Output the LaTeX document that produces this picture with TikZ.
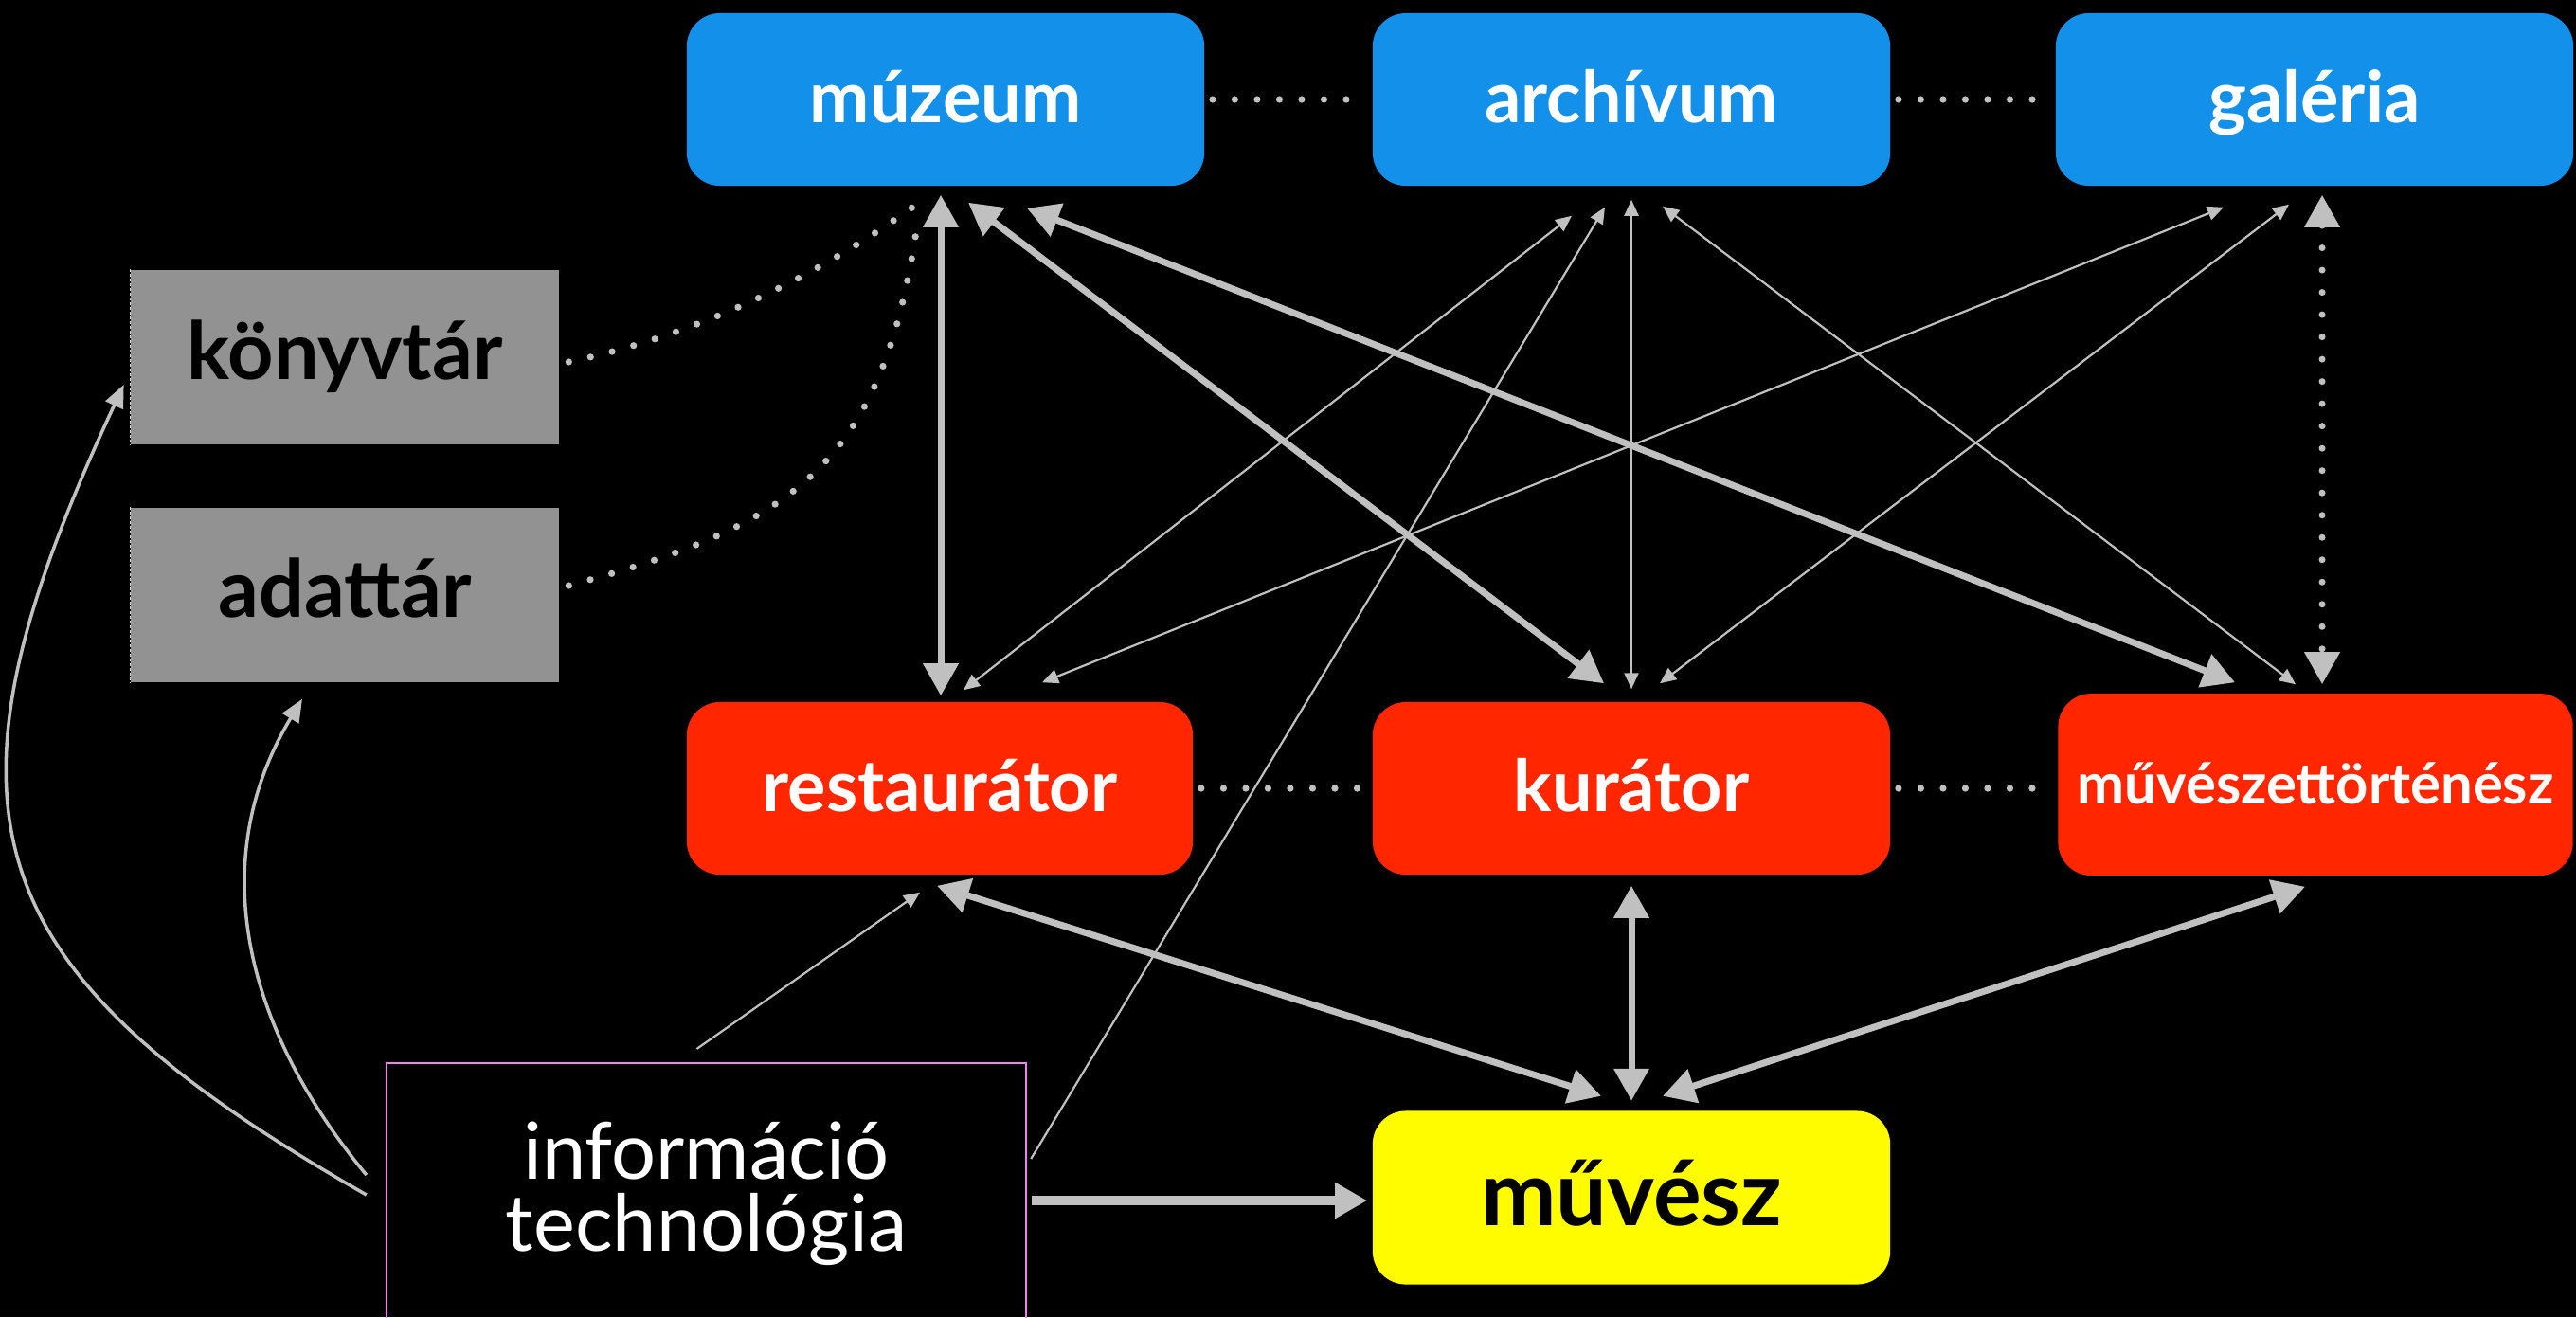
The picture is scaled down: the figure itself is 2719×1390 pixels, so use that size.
\documentclass[tikz,border=0pt]{standalone}
\usepackage{fontspec}
\setmainfont{Lato}
\usetikzlibrary{arrows.meta,calc}
\definecolor{kek}{RGB}{18,144,234}
\definecolor{piros}{RGB}{255,38,0}
\definecolor{sarga}{RGB}{255,252,0}
\definecolor{szurke}{RGB}{146,146,146}
\definecolor{vonal}{RGB}{192,192,192}
\definecolor{lila}{RGB}{238,130,238}
\definecolor{szaggat}{RGB}{215,215,215}
\begin{document}
\begin{tikzpicture}[x=0.01cm,y=-0.01cm,
	box/.style={rounded corners=.35cm,inner sep=0pt,minimum width=5.46cm,minimum height=1.82cm,text=white,text height=17pt,text depth=3pt,font=\bfseries\fontsize{21.5}{25}\selectfont},
	hely/.style={box,fill=kek},
	szerep/.style={box,fill=piros},
	tar/.style={fill=szurke,inner sep=0pt,minimum width=4.51cm,minimum height=1.84cm,text height=17pt,text depth=3.4pt,font=\bfseries\fontsize{24}{28}\selectfont},
	vastag/.style={draw=vonal,line width=.07cm,>={Triangle[length=.34cm,width=.36cm]}},
	vekony/.style={draw=vonal,line width=.022cm,>={Triangle[length=.17cm,width=.15cm]}},
	ives/.style={draw=vonal,line width=.035cm,->,>={Triangle[length=.24cm,width=.2cm]}},
	pont/.style={draw=vonal,line width=.072cm,line cap=round,dash pattern=on 0pt off .235cm}]
	\useasboundingbox (0,0) rectangle (2719,1390);
	\fill[black] (0,0) rectangle (2719,1390);
	% intezmenyek
	\node[hely] (muzeum) at (998,105) {múzeum};
	\node[hely] (archiv) at (1722,105) {archívum};
	\node[hely] (galeria) at (2443,105) {galéria};
	% szakemberek
	\node[szerep,minimum width=5.34cm] (restaurator) at (992,832) {restaurátor};
	\node[szerep] (kurator) at (1722,832) {kurátor};
	\node[szerep,minimum width=5.43cm,minimum height=1.92cm,text height=13.5pt,text depth=2.1pt,font=\bfseries\fontsize{17}{20}\selectfont] (muvtort) at (2444,828) {művészettörténész};
	\node[box,fill=sarga,text=black,minimum height=1.83cm,text height=20pt,text depth=3pt,font=\bfseries\fontsize{27}{32}\selectfont] (muvesz) at (1722,1264) {művész};
	\node[tar] (konyvtar) at (364,377) {könyvtár};
	\node[tar] (adattar) at (364,628) {adattár};
	\node[draw=lila,line width=.02cm,inner sep=0pt,minimum width=6.75cm,minimum height=2.76cm,text=white,align=center,font=\fontsize{23.6}{21.5}\selectfont] (infotech) at (745.5,1260) {információ\\technológia};
	\foreach \t in {konyvtar,adattar}
		\draw[szaggat,line width=.012cm,dash pattern=on .03cm off .02cm] (\t.north west)--(\t.south west);
	% pontozott kapcsolatok
	\draw[pont,shorten <=.08cm,shorten >=.06cm] (muzeum)--(archiv);
	\draw[pont,shorten <=.08cm,shorten >=.06cm] (archiv)--(galeria);
	\draw[pont,shorten <=.08cm,shorten >=.06cm] (restaurator)--(kurator);
	\draw[pont,shorten <=.08cm,shorten >=.06cm] (kurator.east)--(kurator.east-|muvtort.west);
	\draw[pont] ($(konyvtar.east)+(10,5)$) .. controls +(147,-31) and +(-97,71) .. ($(muzeum.south)+(-28,17)$);
	\draw[pont] ($(adattar.east)+(10,-10)$) .. controls +(243,-65) and +(-36,257) .. ($(muzeum.south)+(-29,34)$);
	\draw[pont,vastag,<->] ($(galeria.south)+(8,9)$)--($(muvtort.north)+(7,-9)$);
	% vastag nyilak
	\draw[vastag,<->] ($(muzeum.south)+(-5,9)$)--($(restaurator.north)+(1,-6)$);
	\draw[vastag,<->] ($(muzeum.south)+(24,17)$)--($(kurator.north)+(-29,-19)$);
	\draw[vastag,<->] ($(muzeum.south)+(86,23)$)--($(muvtort.north)+(-85,-11)$);
	\draw[vastag,<->] ($(restaurator.south)+(-3,11)$)--($(muvesz.north)+(-32,-15)$);
	\draw[vastag,<->] ($(kurator.south)+(0,11)$)--($(muvesz.north)+(0,-10)$);
	\draw[vastag,<->] ($(muvtort.south)+(-11,11)$)--($(muvesz.north)+(33,-15)$);
	\draw[vastag,line width=.1cm,->] ($(infotech.east)+(5,7)$)--($(muvesz.west)+(-5,3)$);
	% vekony nyilak
	\draw[vekony,<->] ($(archiv.south)+(0,14)$)--($(kurator.north)+(0,-13)$);
	\draw[vekony,<->] ($(archiv.south)+(-63,31)$)--($(restaurator.north)+(25,-12)$);
	\draw[vekony,<->] ($(archiv.south)+(33,21)$)--($(muvtort.north)+(-21,-9)$);
	\draw[vekony,<->] ($(galeria.south)+(-96,22)$)--($(restaurator.north)+(108,-20)$);
	\draw[vekony,<->] ($(galeria.south)+(-27,19)$)--($(kurator.north)+(30,-19)$);
	\draw[vekony,->] ($(infotech.east)+(4,-37)$)--($(archiv.south)+(-28,22)$);
	\draw[vekony,->] ($(infotech.north)+(-10,-14)$)--($(restaurator.south)+(-21,18)$);
	% ives nyilak
	\draw[ives] ($(infotech.west)+(-20,1)$) .. controls +(-420,-240) and +(-210,450) .. ($(konyvtar.west)+(-7,29)$);
	\draw[ives] ($(infotech.west)+(-20,-20)$) .. controls +(-128,-154) and +(-104,172) .. ($(adattar.south)+(-45,17)$);
\end{tikzpicture}
\end{document}
